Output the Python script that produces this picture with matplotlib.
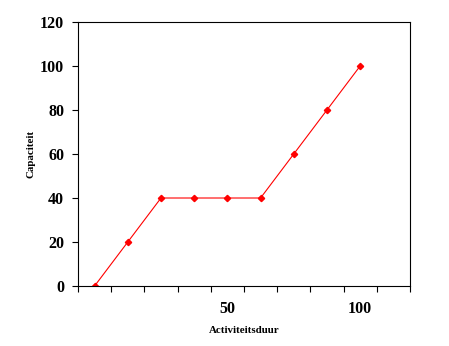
import numpy as np
import matplotlib.pyplot as plt
from matplotlib.ticker import FixedLocator, NullFormatter

plt.rcParams['font.family'] = ['Liberation Serif', 'DejaVu Serif']
plt.rcParams['font.weight'] = 'bold'

# activiteitsduur en capaciteit
duur = [0, 12.5, 25, 37.5, 50, 62.5, 75, 87.5, 100]
capaciteit = [0, 20, 40, 40, 40, 40, 60, 80, 100]
x_labels = [50, 100]

fig = plt.figure(figsize=(4.49, 3.46), dpi=100)
ax = fig.add_axes([0.1737, 0.1734, 0.7393, 0.763])

ax.plot(duur, capaciteit, color='red', lw=0.8, marker='D', ms=3.2,
        markerfacecolor='red', markeredgecolor='red')

ax.set_xlim(-6.25, 118.75)
ax.set_ylim(0, 120)
ax.set_yticks(np.arange(0, 121, 20))

# streepjes tussen de categorieën, labels alleen bij 50 en 100
ax.xaxis.set_major_locator(FixedLocator(x_labels))
ax.xaxis.set_minor_locator(FixedLocator(np.arange(-6.25, 119, 12.5)))
ax.xaxis.set_minor_formatter(NullFormatter())
ax.tick_params(axis='x', which='major', length=0, pad=11, labelsize=11.5)
ax.tick_params(axis='x', which='minor', length=4, width=0.8, direction='out')
ax.tick_params(axis='y', length=4, width=0.8, direction='out', pad=6, labelsize=11.5)

for s in ax.spines.values():
    s.set_linewidth(0.8)

ax.set_xlabel('Activiteitsduur', fontsize=7.8, fontweight='bold', labelpad=6)
ax.set_ylabel('Capaciteit', fontsize=7.8, fontweight='bold', labelpad=3)

fig.savefig('out.png', dpi=100)
